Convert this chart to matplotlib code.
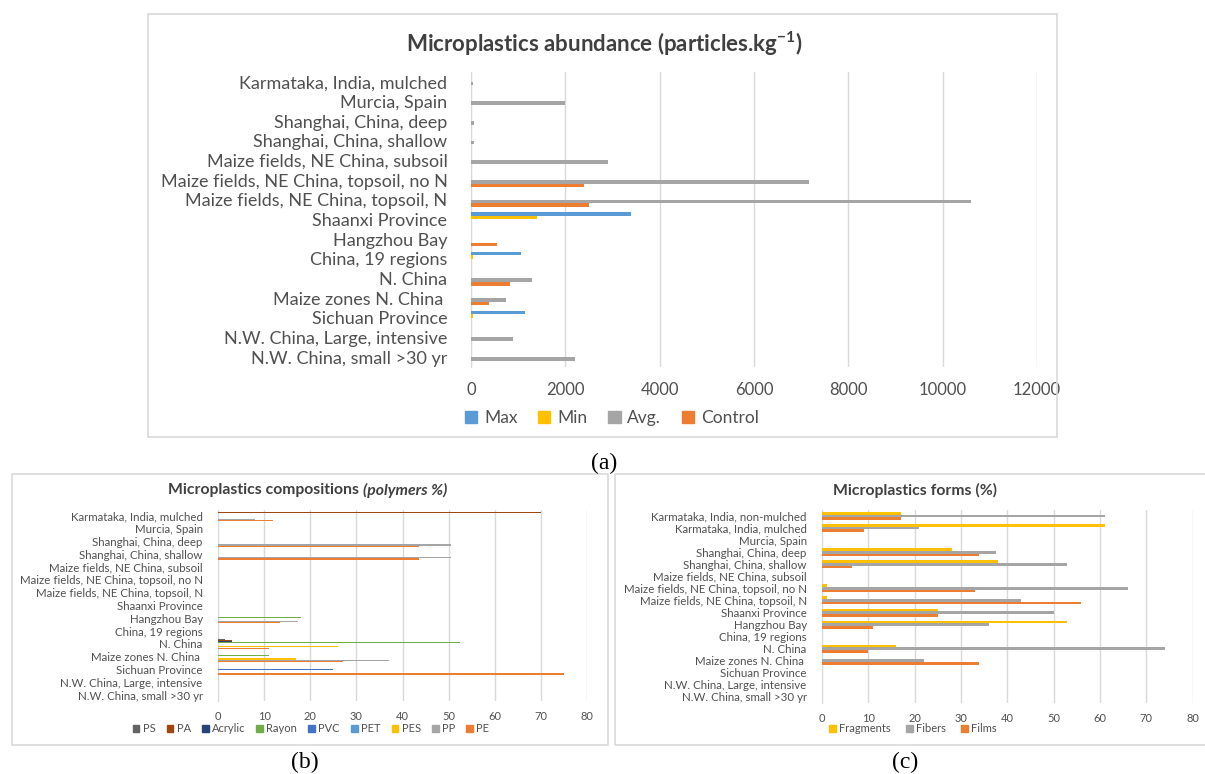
import numpy as np
import matplotlib
matplotlib.use("Agg")
import matplotlib.pyplot as plt
from matplotlib.patches import Rectangle, Patch

plt.rcParams['font.family'] = ['Lato', 'DejaVu Sans']
plt.rcParams['mathtext.fontset'] = 'custom'
plt.rcParams['mathtext.rm'] = 'Lato'
plt.rcParams['mathtext.bf'] = 'Lato:bold'

# ---- data (categories listed top -> bottom) ----
sites = ["Karmataka, India, mulched", "Murcia, Spain", "Shanghai, China, deep",
         "Shanghai, China, shallow", "Maize fields, NE China, subsoil",
         "Maize fields, NE China, topsoil, no N", "Maize fields, NE China, topsoil, N",
         "Shaanxi Province", "Hangzhou Bay", "China, 19 regions", "N. China",
         "Maize zones N. China ", "Sichuan Province", "N.W. China, Large, intensive",
         "N.W. China, small >30 yr"]

# (a) abundance, particles/kg
ab_max = [0, 0, 0, 0, 0, 0, 0, 3400, 0, 1060, 0, 0, 1140, 0, 0]
ab_min = [0, 0, 0, 0, 0, 0, 0, 1400, 0, 40, 0, 0, 35, 0, 0]
ab_avg = [45, 2000, 60, 60, 2900, 7170, 10600, 0, 0, 0, 1300, 740, 0, 900, 2200]
ab_ctrl = [0, 0, 0, 0, 0, 2400, 2500, 0, 550, 0, 830, 375, 0, 0, 0]

# (b) polymer composition, %
poly_names = ["PS", "PA", "Acrylic", "Rayon", "PVC", "PET", "PES", "PP", "PE"]
ps = [0, 0, 0, 0, 0, 0, 0, 0, 0, 0, 1.5, 0, 0, 0, 0]
pa = [70, 0, 0, 0, 0, 0, 0, 0, 0, 0, 3, 0, 0, 0, 0]
acrylic = [0, 0, 0, 0, 0, 0, 0, 0, 0, 0, 3, 0, 0, 0, 0]
rayon = [0, 0, 0, 0, 0, 0, 0, 0, 18, 0, 52.5, 11, 0, 0, 0]
pvc = [0, 0, 0, 0, 0, 0, 0, 0, 0, 0, 0, 0, 25, 0, 0]
pet = [0, 0, 0, 0, 0, 0, 0, 0, 0, 0, 0, 0, 0, 0, 0]
pes = [0, 0, 0, 0, 0, 0, 0, 0, 0, 0, 26, 17, 0, 0, 0]
pp = [8, 0, 50.5, 50.5, 0, 0, 0, 0, 17.3, 0, 0, 37, 0, 0, 0]
pe = [12, 0, 43.5, 43.5, 0, 0, 0, 0, 13.5, 0, 11, 27, 75, 0, 0]

# (c) forms, %
sites_c = ["Karmataka, India, non-mulched"] + sites
fragments = [17, 61, 0, 28, 38, 0, 1, 1, 25, 53, 0, 16, 0, 0, 0, 0]
fibers = [61, 21, 0, 37.5, 53, 0, 66, 43, 50, 36, 0, 74, 22, 0, 0, 0]
films = [17, 9, 0, 34, 6.5, 0, 33, 56, 25, 11, 0, 10, 34, 0, 0, 0]

BLUE, GOLD, GRAY, ORANGE = "#5B9BD5", "#FFC000", "#A5A5A5", "#ED7D31"
poly_colors = ["#636363", "#9E480E", "#264478", "#70AD47", "#4472C4",
               "#5B9BD5", "#FFC000", "#A5A5A5", "#ED7D31"]
TXT = "#505050"
GRID = "#D9D9D9"

W, H = 1205, 774


def px(x0, y0, x1, y1):
    return [x0 / W, 1 - y1 / H, (x1 - x0) / W, (y1 - y0) / H]


def hbars(ax, cats, series, colors, h, fs, tfs):
    y = np.arange(len(cats))
    n = len(series)
    for i, (vals, col) in enumerate(zip(series, colors)):
        ax.barh(y + (i - (n - 1) / 2) * h, vals, height=h, color=col, zorder=3)
    ax.set_yticks(y, cats)
    ax.set_ylim(len(cats) - 0.5, -0.5)
    for s in ["top", "right", "bottom"]:
        ax.spines[s].set_visible(False)
    ax.spines["left"].set_color(GRID)
    ax.grid(axis="x", color=GRID, lw=1, zorder=0)
    ax.tick_params(length=0, labelcolor=TXT)
    ax.tick_params(axis="y", labelsize=fs)
    ax.tick_params(axis="x", labelsize=tfs)
    ax.set_facecolor("none")


fig = plt.figure(figsize=(12.05, 7.74), dpi=100)

# chart frames
for x0, y0, x1, y1 in [(148, 14, 1057, 437), (12, 474, 608, 745), (615, 474, 1215, 745)]:
    fig.add_artist(Rectangle((x0 / W, 1 - y1 / H), (x1 - x0) / W, (y1 - y0) / H,
                             transform=fig.transFigure, fill=False, ec=GRID, lw=1.2))

# ---- (a) ----
ax_a = fig.add_axes(px(471, 72, 1037, 367))
hbars(ax_a, sites, [ab_max, ab_min, ab_avg, ab_ctrl], [BLUE, GOLD, GRAY, ORANGE], 0.18, 13, 12)
ax_a.set_xlim(0, 12000)
ax_a.set_xticks(np.arange(0, 12001, 2000))
ax_a.tick_params(axis="y", pad=17)
ax_a.tick_params(axis="x", pad=11)
fig.text(604 / W, 1 - 44 / H, r"Microplastics abundance (particles.kg$^{\mathbf{-1}}$)",
         ha="center", va="center", fontsize=16, weight="bold", color="#404040")
fig.legend([Patch(color=c) for c in [BLUE, GOLD, GRAY, ORANGE]],
           ["Max", "Min", "Avg.", "Control"], loc="center",
           bbox_to_anchor=(612 / W, 1 - 418 / H), ncol=4, frameon=False,
           fontsize=12.5, labelcolor=TXT, handlelength=0.7, handleheight=0.7,
           handletextpad=0.4, columnspacing=1.2)

# ---- (b) ----
ax_b = fig.add_axes(px(218, 509.6, 587, 701.4))
hbars(ax_b, sites, [ps, pa, acrylic, rayon, pvc, pet, pes, pp, pe], poly_colors, 0.09, 8.3, 8)
ax_b.set_xlim(0, 80)
ax_b.set_xticks(np.arange(0, 81, 10))
ax_b.tick_params(axis="y", pad=11)
ax_b.tick_params(axis="x", pad=7)
t1 = fig.text(168 / W, 1 - 490 / H, "Microplastics compositions ", ha="left", va="center",
              fontsize=11.3, weight="bold", color="#404040")
ax_b.annotate("(polymers %)", xy=(1, 0.5), xycoords=t1, va="center", annotation_clip=False,
              fontsize=11.3, style="italic", weight="bold", color="#404040")
fig.legend([Patch(color=c) for c in poly_colors], poly_names, loc="center",
           bbox_to_anchor=(311 / W, 1 - 729 / H), ncol=9, frameon=False,
           fontsize=8, labelcolor=TXT, handlelength=0.6, handleheight=0.6,
           handletextpad=0.3, columnspacing=1.0)

# ---- (c) ----
ax_c = fig.add_axes(px(822, 510, 1192.5, 703))
hbars(ax_c, sites_c, [fragments, fibers, films], [GOLD, GRAY, ORANGE], 0.22, 8.3, 8)
ax_c.set_xlim(0, 80)
ax_c.set_xticks(np.arange(0, 81, 10))
ax_c.tick_params(axis="y", pad=11)
ax_c.tick_params(axis="x", pad=7)
fig.text(915 / W, 1 - 490 / H, "Microplastics forms (%)", ha="center", va="center",
         fontsize=11.3, weight="bold", color="#404040")
fig.legend([Patch(color=c) for c in [GOLD, GRAY, ORANGE]], ["Fragments", "Fibers", "Films"],
           loc="center", bbox_to_anchor=(913 / W, 1 - 729 / H), ncol=3, frameon=False,
           fontsize=8, labelcolor=TXT, handlelength=0.6, handleheight=0.6,
           handletextpad=0.3, columnspacing=1.4)

# panel letters
for x, y, s in [(604, 463, "(a)"), (305, 762, "(b)"), (905, 762, "(c)")]:
    fig.text(x / W, 1 - y / H, s, ha="center", va="center", fontsize=17,
             family="Liberation Serif", color="black")

fig.savefig("out.png", dpi=100)
